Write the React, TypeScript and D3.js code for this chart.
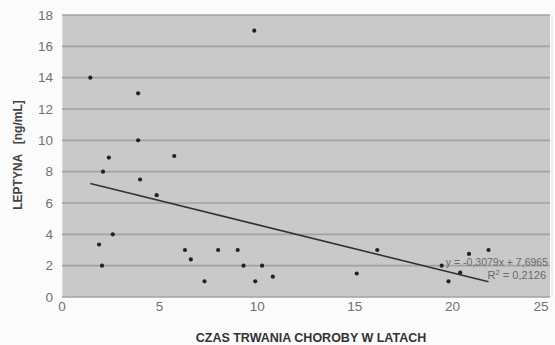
import React from "react";
import * as d3 from "d3";

const xValues = [1.45, 3.9, 3.9, 2.4, 5.75, 2.1, 4.0, 4.85, 2.6, 1.9, 2.05, 6.3, 6.6, 7.3, 8.0, 9.0, 9.3, 10.25, 9.9, 10.8, 9.85, 16.15, 15.1, 19.45, 19.8, 20.4, 20.85, 21.85];
const yValues = [14, 13, 10, 8.9, 9, 8, 7.5, 6.5, 4, 3.35, 2, 3, 2.4, 1, 3, 3, 2, 2, 1, 1.3, 17, 3, 1.5, 2, 1, 1.55, 2.75, 3];
const xTicks = [0, 5, 10, 15, 20, 25];
const yTicks = [0, 2, 4, 6, 8, 10, 12, 14, 16, 18];
const slope = -0.3079;
const intercept = 7.6965;
const eqLabel = "y = -0,3079x + 7,6965";
const r2Label = "= 0,2126";
const xTitle = "CZAS TRWANIA CHOROBY W LATACH";
const yTitle = "LEPTYNA   [ng/mL]";

export default function App() {
  const W = 555, H = 345;
  const left = 62, right = 550, top = 15, bottom = 297;
  const x = d3.scaleLinear().domain([0, 25]).range([left, right]);
  const y = d3.scaleLinear().domain([0, 18]).range([bottom, top]);
  const [xmin, xmax] = d3.extent(xValues) as [number, number];
  const line = d3.line<number>().x((d) => x(d)).y((d) => y(slope * d + intercept));
  const font = "'Liberation Sans', Arial, sans-serif";
  return (
    <svg width={W} height={H} style={{ position: "absolute", left: 0, top: 0 }} fontFamily={font}>
      <rect x={0} y={0} width={W} height={H} fill="#fbfbfb" />
      <rect x={left} y={top} width={right - left} height={bottom - top} fill="#c9c9c9" />
      <line x1={left + 0.5} x2={left + 0.5} y1={top} y2={bottom} stroke="#dcdcdc" strokeWidth={1} />
      <line x1={right + 2} x2={right + 2} y1={top} y2={bottom} stroke="#e2e2e2" strokeWidth={1} />
      {yTicks.map((t) => (
        <line key={t} x1={left} x2={right} y1={y(t)} y2={y(t)} stroke="#a2a2a2" strokeWidth={1.6} />
      ))}
      {yTicks.map((t) => (
        <text key={"yl" + t} x={53} y={y(t)} dy="0.35em" textAnchor="end" fontSize={13.5} fill="#707070">{t}</text>
      ))}
      {xTicks.map((t) => (
        <text key={"xl" + t} x={Math.min(x(t), 541)} y={311} textAnchor="middle" fontSize={13.5} fill="#707070">{t}</text>
      ))}
      <path d={line([xmin, xmax]) || ""} fill="none" stroke="#333" strokeWidth={1.6} />
      {xValues.map((xv, i) => (
        <circle key={"p" + i} cx={x(xv)} cy={y(yValues[i])} r={2.1} fill="#222" />
      ))}
      <text x={548} y={266} textAnchor="end" fontSize={10.5} fill="#6a6a6a">{eqLabel}</text>
      <text x={546} y={279} textAnchor="end" fontSize={11} fill="#6a6a6a">
        R<tspan fontSize={8} dy={-4}>2</tspan><tspan dy={4}>{" " + r2Label}</tspan>
      </text>
      <text x={311} y={342} textAnchor="middle" fontSize={12.5} fontWeight="bold" fill="#333">{xTitle}</text>
      <text transform={`translate(22,155) rotate(-90)`} textAnchor="middle" fontSize={12} fontWeight="bold" fill="#444" xmlSpace="preserve">{yTitle}</text>
    </svg>
  );
}
